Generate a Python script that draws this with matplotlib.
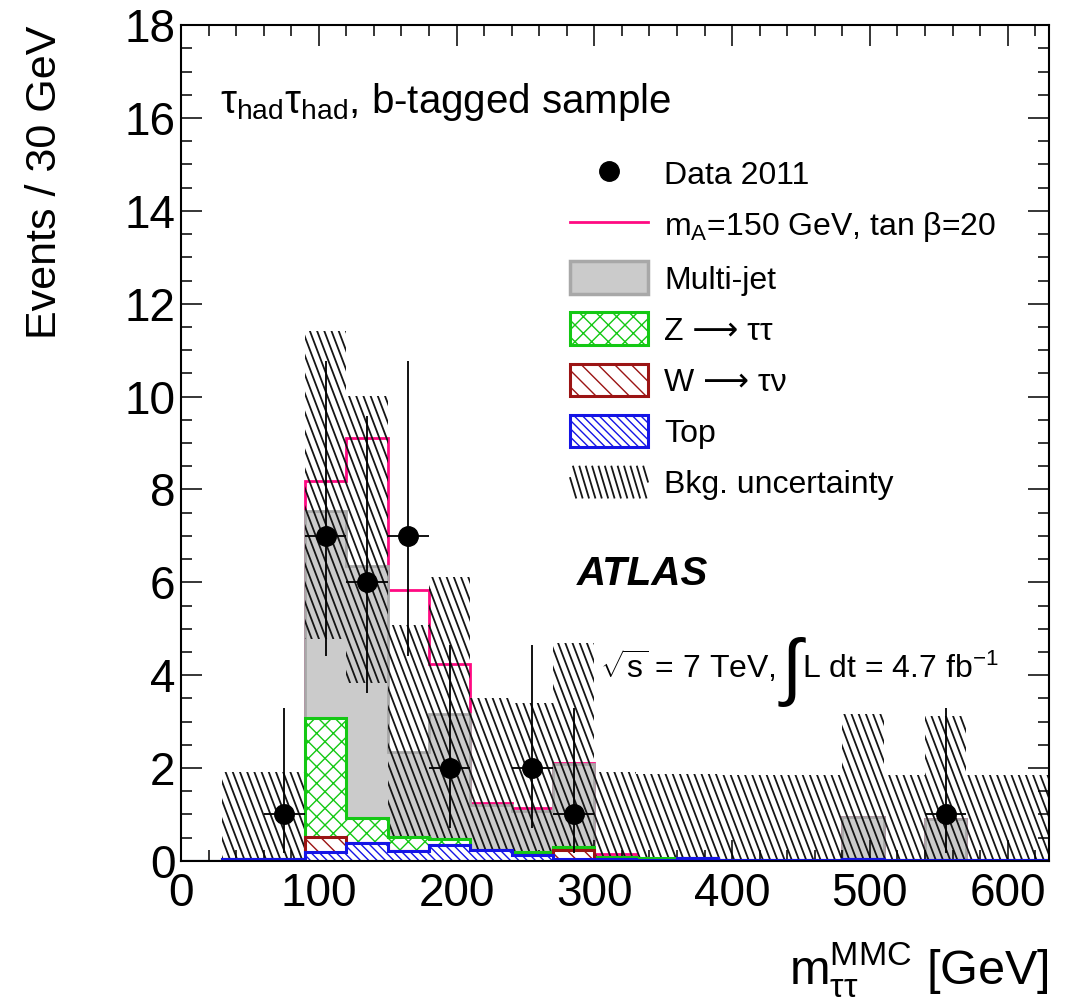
import numpy as np
import matplotlib
matplotlib.use('Agg')
import matplotlib.pyplot as plt
from matplotlib.lines import Line2D
from matplotlib.patches import Patch
from matplotlib.collections import LineCollection
from matplotlib.legend_handler import HandlerBase
from matplotlib.ticker import MultipleLocator

plt.rcParams['font.family'] = ['Liberation Sans', 'DejaVu Sans']
plt.rcParams['mathtext.fontset'] = 'custom'
plt.rcParams['mathtext.rm'] = 'Liberation Sans'
plt.rcParams['mathtext.it'] = 'Liberation Sans:italic'
plt.rcParams['mathtext.bf'] = 'Liberation Sans:bold'
plt.rcParams['mathtext.default'] = 'regular'
plt.rcParams['hatch.linewidth'] = 1.0

# 30 GeV bins, 0 - 630 GeV
bin_edges = np.arange(0, 631, 30)

# expected events per bin, stacked bottom -> top
top = [0, 0.05, 0.05, 0.19, 0.38, 0.21, 0.34, 0.23, 0.12, 0.05, 0.04,
       0.02, 0.06, 0.01, 0.01, 0.01, 0.05, 0.01, 0.01, 0.01, 0.01]
w_taunu = [0, 0, 0, 0.32, 0, 0, 0, 0, 0, 0.18, 0,
           0, 0, 0, 0, 0, 0, 0, 0, 0, 0]
z_tautau = [0, 0, 0, 2.57, 0.55, 0.31, 0.13, 0.01, 0.07, 0.07, 0.05,
            0.04, 0, 0, 0, 0, 0, 0, 0, 0, 0]
multijet = [0, 0, 0, 4.46, 5.43, 1.83, 2.69, 0.96, 0.89, 1.78, 0,
            0, 0, 0, 0, 0, 0.89, 0, 0.90, 0, 0]
signal = [0, 0, 0, 0.64, 2.74, 3.49, 1.08, 0.04, 0.06, 0.02, 0.05,
          0, 0, 0, 0, 0, 0, 0, 0, 0, 0]

# background uncertainty band (upper / lower edge)
band_up = [0, 1.92, 1.92, 11.42, 10.02, 5.08, 6.12, 3.50, 3.40, 4.70, 1.91,
           1.88, 1.86, 1.85, 1.85, 1.85, 3.16, 1.85, 3.11, 1.84, 1.84]
band_down = [0, 0, 0, 4.78, 3.84, 0, 0, 0, 0, 0, 0,
             0, 0, 0, 0, 0, 0, 0, 0, 0, 0]

# data 2011
data_x = [75, 105, 135, 165, 195, 255, 285, 555]
data_y = [1, 7, 6, 7, 2, 2, 1, 1]
data_low = [0.17, 4.42, 3.62, 4.42, 0.71, 0.71, 0.17, 0.17]
data_high = [3.30, 10.77, 9.58, 10.77, 4.64, 4.64, 3.30, 3.30]

PINK = '#ff0a82'
GREEN = '#14c814'
RED = '#9b1414'
BLUE = '#1414e6'
GREY = '#cbcbcb'
GREY_EDGE = '#a8a8a8'
HATCH_COL = '#151515'
HATCH_LW = 1.3


class BandHandler(HandlerBase):
    # steep "\\\\" hatching like the ROOT fill style of the band
    def create_artists(self, legend, orig_handle, xdescent, ydescent,
                       width, height, fontsize, trans):
        dx = 0.3 * height
        segs = []
        for a in np.arange(-dx, width, 4.6):
            t0 = max(0.0, -a / dx)
            t1 = min(1.0, (width - a) / dx)
            if t1 <= t0:
                continue
            segs.append([(a + dx * t0 - xdescent, height * (1 - t0) - ydescent),
                         (a + dx * t1 - xdescent, height * (1 - t1) - ydescent)])
        lc = LineCollection(segs, colors=HATCH_COL, linewidths=HATCH_LW, transform=trans)
        return [lc]


fig = plt.figure(figsize=(10.65, 10.08), dpi=100)
ax = fig.add_axes([0.170, 0.146, 0.815, 0.829])

c_top = np.array(top)
c_w = c_top + np.array(w_taunu)
c_z = c_w + np.array(z_tautau)
c_mj = c_z + np.array(multijet)
c_sig = c_mj + np.array(signal)

# signal on top of the background, drawn under the grey so only its excess shows
ax.stairs(c_sig, bin_edges, fill=False, edgecolor=PINK, linewidth=2.0, zorder=0.9)
ax.stairs(c_mj, bin_edges, fill=True, facecolor=GREY, edgecolor=GREY_EDGE,
          linewidth=2.0, zorder=1)

# uncertainty band: invisible patch used as clip path for hatch lines
band = ax.stairs(band_up, bin_edges, baseline=band_down, fill=True,
                 facecolor='none', edgecolor='none', zorder=1.4)
step = 7.2 / 868
slope = 0.38 * 836 / 868
segs = [[(x0, 1), (x0 + slope, 0)] for x0 in np.arange(-0.45, 1.0, step)]
lc = LineCollection(segs, colors=HATCH_COL, linewidths=HATCH_LW,
                    transform=ax.transAxes, zorder=1.5)
lc.set_clip_path(band)
ax.add_collection(lc, autolim=False)

ax.stairs(c_z, bin_edges, fill=True, facecolor='white', edgecolor=GREEN,
          hatch='xx', linewidth=2.2, zorder=2)
ax.stairs(c_w, bin_edges, fill=True, facecolor='white', edgecolor=RED,
          hatch='\\\\', linewidth=2.2, zorder=2.1)
ax.stairs(c_top, bin_edges, fill=True, facecolor='white', edgecolor=BLUE,
          hatch='\\\\\\\\', linewidth=2.2, zorder=2.2)

yerr = [np.array(data_y) - np.array(data_low), np.array(data_high) - np.array(data_y)]
ax.errorbar(data_x, data_y, yerr=yerr, xerr=15, fmt='o', color='black',
            markersize=14, elinewidth=1.3, capsize=0, zorder=3)

ax.set_xlim(0, 630)
ax.set_ylim(0, 18)
ax.xaxis.set_major_locator(MultipleLocator(100))
ax.xaxis.set_minor_locator(MultipleLocator(20))
ax.yaxis.set_major_locator(MultipleLocator(2))
ax.yaxis.set_minor_locator(MultipleLocator(0.5))
ax.tick_params(which='both', direction='in', top=True, right=True, width=1.1)
ax.tick_params(which='major', length=15, labelsize=33)
ax.tick_params(which='minor', length=8)
ax.tick_params(axis='x', pad=8)
ax.tick_params(axis='y', pad=4)
for s in ax.spines.values():
    s.set_linewidth(1.5)

ax.set_xlabel(r'$m_{\tau\tau}^{MMC}$ [GeV]', fontsize=35, loc='right')
ax.xaxis.set_label_coords(1.0, -0.095)
ax.set_ylabel('Events / 30 GeV', fontsize=31, loc='top')
ax.yaxis.set_label_coords(-0.134, 1.0)

ax.text(0.045, 0.895, r'$\tau_{had}\tau_{had}$, b-tagged sample',
        transform=ax.transAxes, fontsize=29, va='baseline')
ax.text(0.456, 0.33, 'ATLAS', transform=ax.transAxes, fontsize=29,
        fontweight='bold', fontstyle='italic', va='baseline')

band_key = Patch()
handles = [
    Line2D([], [], marker='o', color='black', linestyle='none', markersize=14),
    Line2D([], [], color=PINK, linewidth=2.0),
    Patch(facecolor=GREY, edgecolor=GREY_EDGE, linewidth=2.5),
    Patch(facecolor='white', edgecolor=GREEN, hatch='xx', linewidth=2.2),
    Patch(facecolor='white', edgecolor=RED, hatch='\\\\', linewidth=2.2),
    Patch(facecolor='white', edgecolor=BLUE, hatch='\\\\\\\\', linewidth=2.2),
    band_key,
]
labels = ['Data 2011', r'$m_A$=150 GeV, tan $\beta$=20', 'Multi-jet',
          'Z ⟶ ττ', 'W ⟶ τν', 'Top', 'Bkg. uncertainty']
ax.legend(handles, labels, loc='upper left', bbox_to_anchor=(0.448, 0.842),
          frameon=False, fontsize=23, handlelength=2.45, handleheight=1.2,
          labelspacing=0.53, handletextpad=0.5, borderpad=0, borderaxespad=0,
          handler_map={band_key: BandHandler()})

# luminosity label with a tall integral sign
fig.canvas.draw()
renderer = fig.canvas.get_renderer()
inv = ax.transAxes.inverted()
y_base = 0.219
t1 = ax.text(0.483, y_base, r'$\sqrt{s}$ = 7 TeV,', transform=ax.transAxes,
             fontsize=23, va='baseline')
bb1 = t1.get_window_extent(renderer)
x2 = inv.transform((bb1.x1 + 5, 0))[0]
t2 = ax.text(x2, y_base - 0.0156, '∫', transform=ax.transAxes, fontsize=53,
             va='baseline')
bb2 = t2.get_window_extent(renderer)
x3 = inv.transform((bb2.x1 + 1, 0))[0]
ax.text(x3, y_base, r'L dt = 4.7 fb$^{-1}$', transform=ax.transAxes,
        fontsize=23, va='baseline')

fig.savefig('out.png', dpi=100)
